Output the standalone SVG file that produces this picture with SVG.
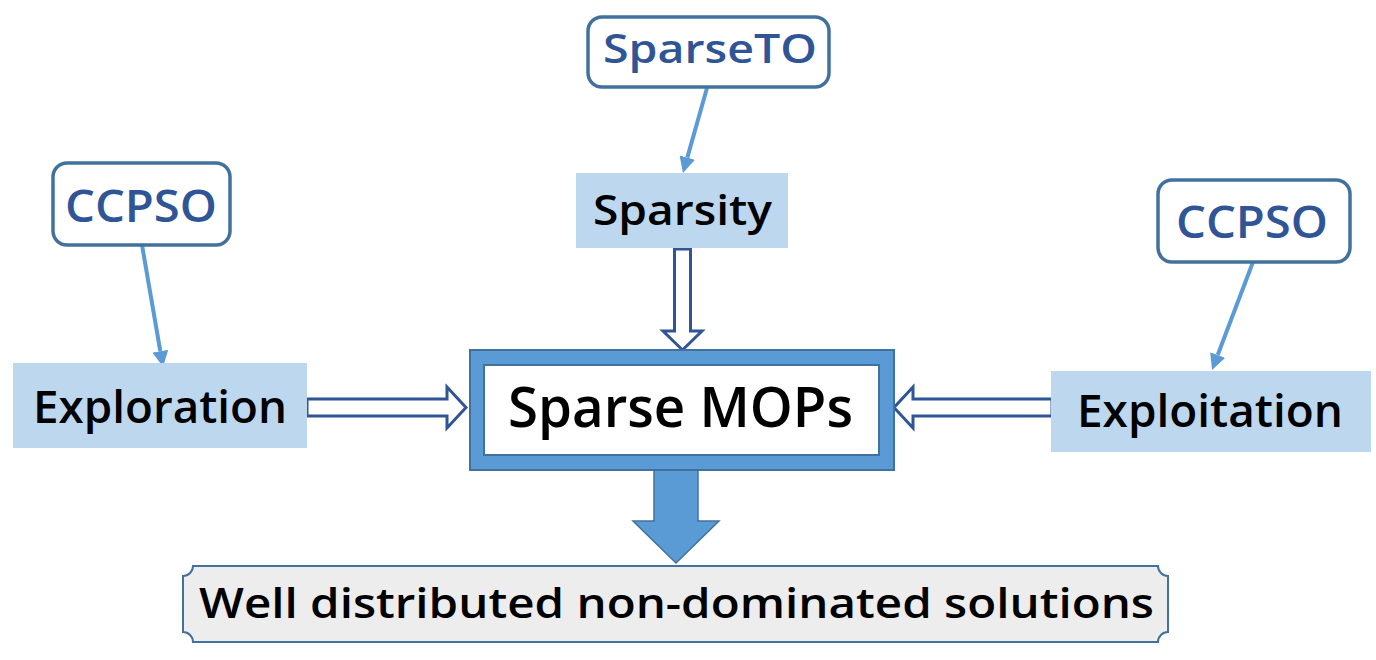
<svg xmlns="http://www.w3.org/2000/svg" width="1376" height="660" viewBox="0 0 1376 660">
<style>
.lbl{font-family:"Open Sans","Liberation Sans",Arial,sans-serif;font-weight:600;fill:#000;text-anchor:middle}
.blue{font-family:"Open Sans","Liberation Sans",Arial,sans-serif;font-weight:600;fill:#2F5597;text-anchor:middle}
.src{fill:#fff;stroke:#41719C;stroke-width:3.5}
.pale{fill:#BDD7EE}
.thin{stroke:#5B9BD5;stroke-width:4;fill:none;marker-end:url(#ah)}
.hollow{fill:#fff;stroke:#2F5597;stroke-width:3;stroke-linejoin:miter}
</style>
<defs>
<marker id="ah" markerUnits="userSpaceOnUse" viewBox="0 0 16 16" markerWidth="16" markerHeight="16" refX="0" refY="8" orient="auto">
<path d="M0,0 L16,8 L0,16 z" fill="#5B9BD5"/>
</marker>
</defs>
<rect width="1376" height="660" fill="#fff"/>

<g id="connectors">
<path class="thin" d="M142,245 L160.3,351.2"/>
<path class="thin" d="M707,88 L687.3,157.6"/>
<path class="thin" d="M1253,262 L1217.7,355"/>
<polygon class="hollow" points="307,399 447,399 447,387 466,407.5 447,428 447,416 307,416"/>
<polygon class="hollow" points="1052,399 913,399 913,387 894,407.5 913,428 913,416 1052,416"/>
<polygon class="hollow" points="674.5,249 690.5,249 690.5,331 702,331 682.5,350 663,331 674.5,331"/>
<polygon points="654,470 698,470 698,521 719,521 676,563 633,521 654,521" fill="#5B9BD5" stroke="#41719C" stroke-width="1.5"/>
</g>

<g id="sparseto">
<rect class="src" x="588" y="17" width="241" height="70" rx="14"/>
<text class="blue" x="710" y="63" font-size="40" textLength="214" lengthAdjust="spacingAndGlyphs">SparseTO</text>
</g>

<g id="sparsity">
<rect class="pale" x="576" y="173" width="212" height="75"/>
<text class="lbl" x="682.5" y="225" font-size="42" textLength="179" lengthAdjust="spacingAndGlyphs">Sparsity</text>
</g>

<g id="ccpso-left">
<rect class="src" x="53" y="163" width="177" height="82" rx="14"/>
<text class="blue" x="141" y="222" font-size="46" textLength="152" lengthAdjust="spacingAndGlyphs">CCPSO</text>
</g>

<g id="ccpso-right">
<rect class="src" x="1158" y="180" width="192" height="82" rx="14"/>
<text class="blue" x="1252" y="238" font-size="46" textLength="152" lengthAdjust="spacingAndGlyphs">CCPSO</text>
</g>

<g id="exploration">
<rect class="pale" x="13" y="363" width="294" height="85"/>
<text class="lbl" x="160" y="423" font-size="46" textLength="254" lengthAdjust="spacingAndGlyphs">Exploration</text>
</g>

<g id="exploitation">
<rect class="pale" x="1051" y="371" width="320" height="81"/>
<text class="lbl" x="1210" y="427" font-size="46" textLength="266" lengthAdjust="spacingAndGlyphs">Exploitation</text>
</g>

<g id="sparse-mops">
<rect x="470" y="350" width="424" height="120" fill="#5B9BD5" stroke="#41719C" stroke-width="2"/>
<rect x="484" y="365" width="395" height="90" fill="#fff" stroke="#41719C" stroke-width="2"/>
<text class="lbl" x="680.5" y="427" font-size="56" textLength="345" lengthAdjust="spacingAndGlyphs">Sparse MOPs</text>
</g>

<g id="solutions">
<path d="M193,566 H1158 A10,10 0 0 0 1168,576 V632 A10,10 0 0 0 1158,642 H193 A10,10 0 0 0 183,632 V576 A10,10 0 0 0 193,566 Z" fill="#EDEDED" stroke="#41719C" stroke-width="2"/>
<text class="lbl" x="676.5" y="618" font-size="42" textLength="955" lengthAdjust="spacingAndGlyphs">Well distributed non-dominated solutions</text>
</g>
</svg>
